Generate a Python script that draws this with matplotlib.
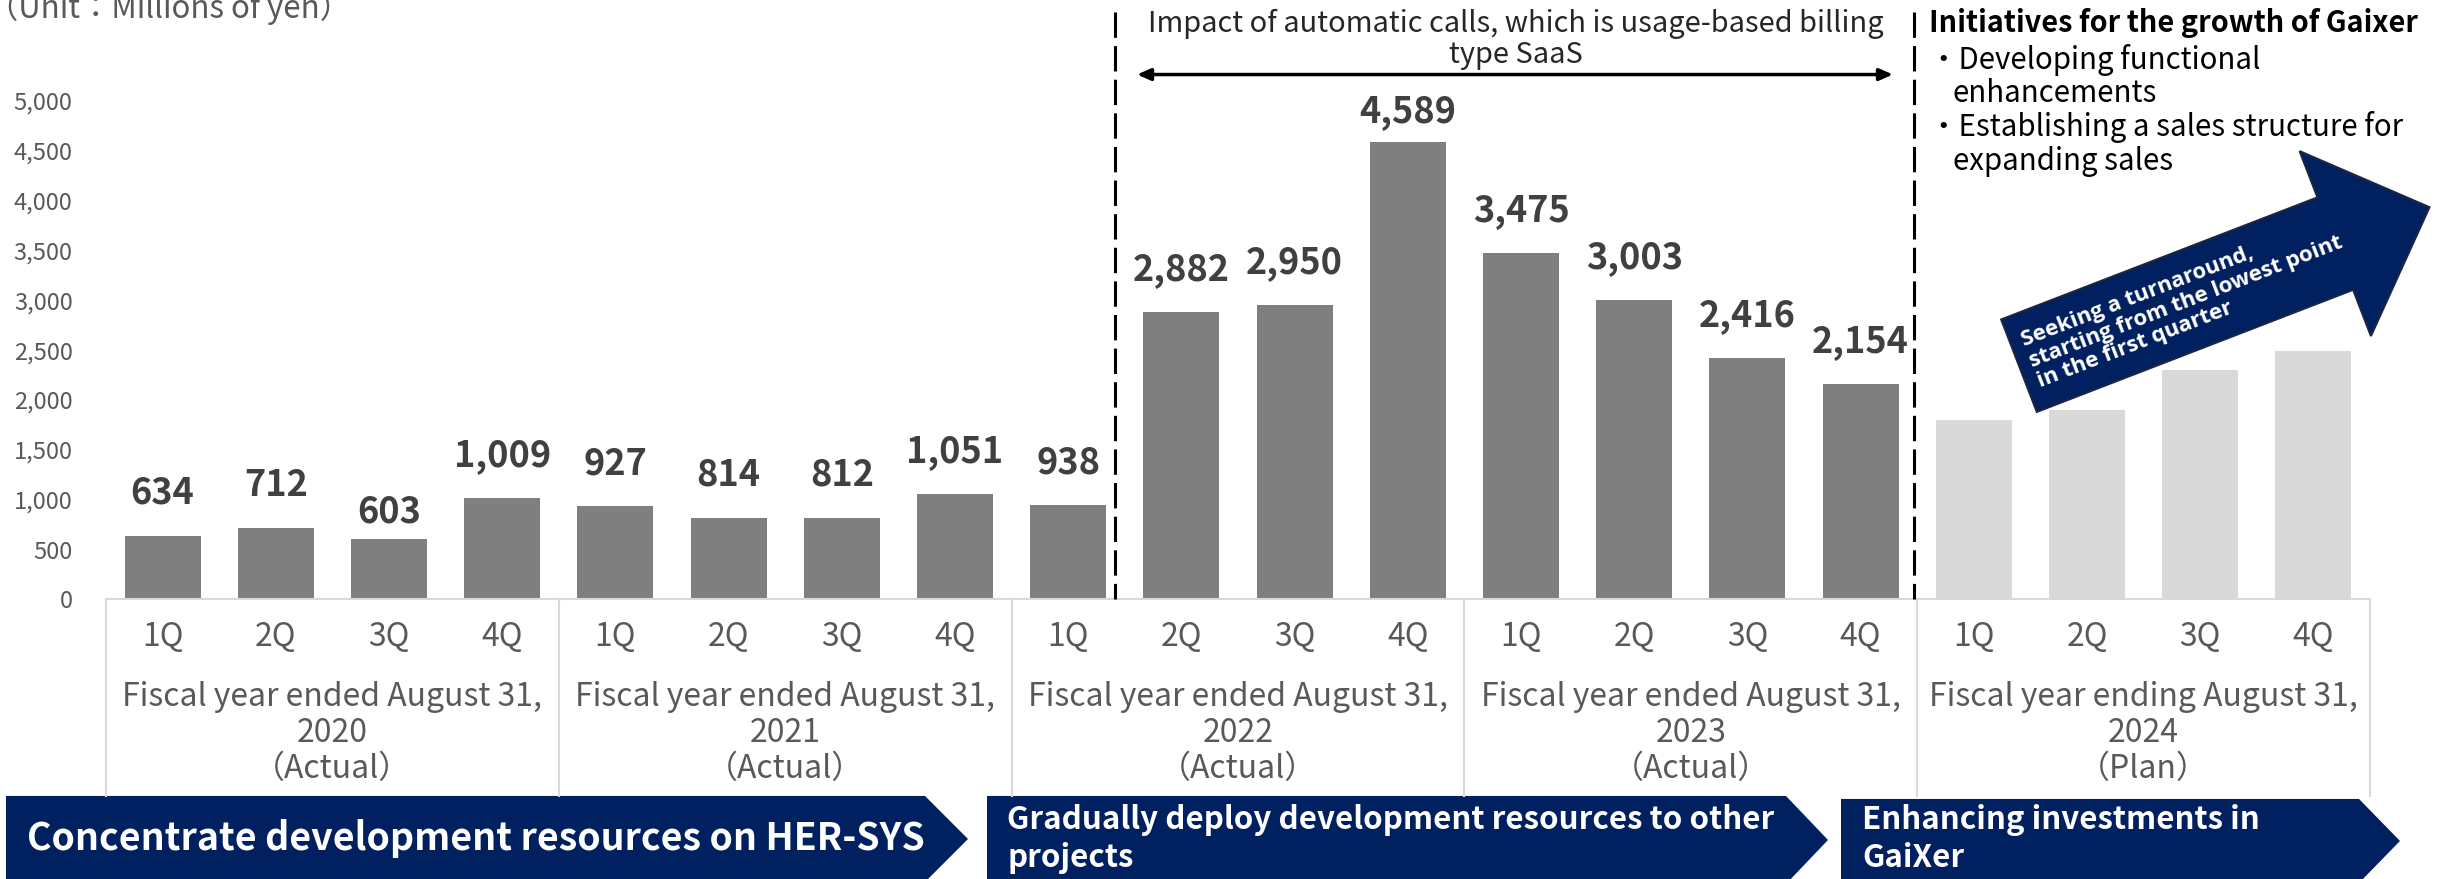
import numpy as np
import matplotlib.pyplot as plt
import matplotlib.transforms as mtransforms
from matplotlib.patches import Polygon

plt.rcParams['font.family'] = ['Noto Sans CJK JP', 'DejaVu Sans']

W, H = 2437, 879

# quarterly figures (millions of yen)
quarters = ['1Q', '2Q', '3Q', '4Q'] * 5
actual_sales = [634, 712, 603, 1009, 927, 814, 812, 1051, 938,
                2882, 2950, 4589, 3475, 3003, 2416, 2154]
plan_sales = [1790, 1890, 2295, 2485]
fy_prefix = ['Fiscal year ended August 31,'] * 4 + ['Fiscal year ending August 31,']
fy_years = ['2020', '2021', '2022', '2023', '2024']
fy_status = ['（Actual）', '（Actual）', '（Actual）', '（Actual）', '（Plan）']
y_ticks = [0, 500, 1000, 1500, 2000, 2500, 3000, 3500, 4000, 4500, 5000]

GREY_TXT = '#595959'
NAVY = '#002060'

fig = plt.figure(figsize=(W / 100, (H + 0.5) / 100), dpi=100)
ax = fig.add_axes([106 / W, 1 - 599 / H, 2264 / W, 498 / H])

# overlay in pixel units (y down) for annotations
ov = fig.add_axes([0, 0, 1, 1], zorder=3)
ov.set_xlim(0, W)
ov.set_ylim(H, 0)
ov.axis('off')
ov.patch.set_alpha(0)
blend = mtransforms.blended_transform_factory(ax.transData, ov.transData)

x_act = np.arange(len(actual_sales))
x_plan = np.arange(len(actual_sales), len(actual_sales) + len(plan_sales))
ax.bar(x_act, actual_sales, width=0.67, color='#7F7F7F', zorder=2)
ax.bar(x_plan, plan_sales, width=0.67, color='#D9D9D9', zorder=2)

ax.set_xlim(-0.5, 19.5)
ax.set_ylim(0, 5000)
for s in ['top', 'right', 'left']:
    ax.spines[s].set_visible(False)
ax.spines['bottom'].set_color('#D9D9D9')
ax.spines['bottom'].set_linewidth(1.5)
ax.set_xticks([])
ax.set_yticks(y_ticks)
ax.set_yticklabels([f'{v:,}' for v in y_ticks])
ax.tick_params(axis='y', length=0, pad=24, labelsize=17, labelcolor=GREY_TXT)
ax.patch.set_alpha(0)

# value labels (a couple sit lower to clear neighbours)
lift_px = {2: 27, 11: 30}
for i, v in enumerate(actual_sales):
    ax.annotate(f'{v:,}', (i, v), xytext=(0, lift_px.get(i, 43) * 0.72),
                textcoords='offset points', ha='center', va='center',
                fontsize=26, fontweight='bold', color='#404040')

# multi-level category axis
for b in [-0.5, 3.5, 7.5, 11.5, 15.5, 19.5]:
    ov.plot([b, b], [599, 796], transform=blend, color='#D9D9D9', lw=1.5)
for i, q in enumerate(quarters):
    ov.text(i, 637, q, transform=blend, ha='center', va='center',
            fontsize=23, color=GREY_TXT)
for g in range(len(fy_years)):
    xc = 4 * g + 1.5
    for y, line in zip([697, 733, 769], [fy_prefix[g], fy_years[g], fy_status[g]]):
        ov.text(xc, y, line, transform=blend, ha='center', va='center',
                fontsize=23, color=GREY_TXT)

# dashed phase separators
for xd in [8.41, 15.47]:
    ov.plot([xd, xd], [12, 599], transform=blend, color='black', lw=2.2,
            dashes=(8.3, 2.7))

ov.text(-13, 18, '（Unit：Millions of yen）', ha='left', va='baseline',
        fontsize=22.5, color=GREY_TXT)

# automatic-calls span
ov.annotate('', xy=(1893, 75), xytext=(1137, 75),
            arrowprops=dict(arrowstyle='<|-|>,head_length=0.8,head_width=0.35',
                            color='black', lw=2.5, shrinkA=0, shrinkB=0))
ov.text(1516, 24, 'Impact of automatic calls, which is usage-based billing',
        ha='center', va='center', fontsize=20.9, color='#262626')
ov.text(1516, 55, 'type SaaS', ha='center', va='center', fontsize=20.9, color='#262626')

ov.text(1929, 23, 'Initiatives for the growth of Gaixer', ha='left', va='center',
        fontsize=20.8, fontweight='bold', color='black')
for x, y, s in [(1929, 60, '・Developing functional'), (1953, 93, 'enhancements'),
                (1929, 127, '・Establishing a sales structure for'),
                (1953, 161, 'expanding sales')]:
    ov.text(x, y, s, ha='left', va='center', fontsize=21.2, color='black')

# growth arrow over the plan bars
tail = np.array([2019.0, 366.0])
ang = np.radians(21.1)
d = np.array([np.cos(ang), -np.sin(ang)])
n = np.array([np.sin(ang), np.cos(ang)])
shaft_len, shaft_w, head_w, head_len = 339, 99, 198, 101
base = tail + shaft_len * d
pts = [tail - n * shaft_w / 2, base - n * shaft_w / 2, base - n * head_w / 2,
       base + d * head_len, base + n * head_w / 2, base + n * shaft_w / 2,
       tail + n * shaft_w / 2]
ov.add_patch(Polygon(pts, closed=True, facecolor=NAVY, edgecolor='#1c2541', lw=1.5))
anchor = tail + d * 12
ov.text(anchor[0], anchor[1],
        'Seeking a turnaround,\nstarting from the lowest point\nin the first quarter',
        rotation=21.1, rotation_mode='anchor', ha='left', va='center',
        multialignment='left', fontsize=16, fontweight='bold', color='white',
        family=['Open Sans', 'DejaVu Sans'], linespacing=1.05)

# phase banners
banners = [
    ([(6, 796), (925, 796), (968, 839), (925, 882), (6, 882)],
     [(27, 838, 'Concentrate development resources on HER-SYS')], 27),
    ([(987, 796), (1786, 796), (1828, 840), (1786, 884), (987, 884)],
     [(1007, 820, 'Gradually deploy development resources to other'),
      (1007, 858, 'projects')], 22.5),
    ([(1841, 799), (2359, 799), (2400, 841), (2359, 883), (1841, 883)],
     [(1862, 820, 'Enhancing investments in'), (1862, 858, 'GaiXer')], 22.5),
]
for poly, lines, fs in banners:
    ov.add_patch(Polygon(poly, closed=True, facecolor=NAVY, edgecolor='none'))
    for x, y, s in lines:
        ov.text(x, y, s, ha='left', va='center', fontsize=fs,
                fontweight='bold', color='white')

fig.savefig('out.png', dpi=100)
